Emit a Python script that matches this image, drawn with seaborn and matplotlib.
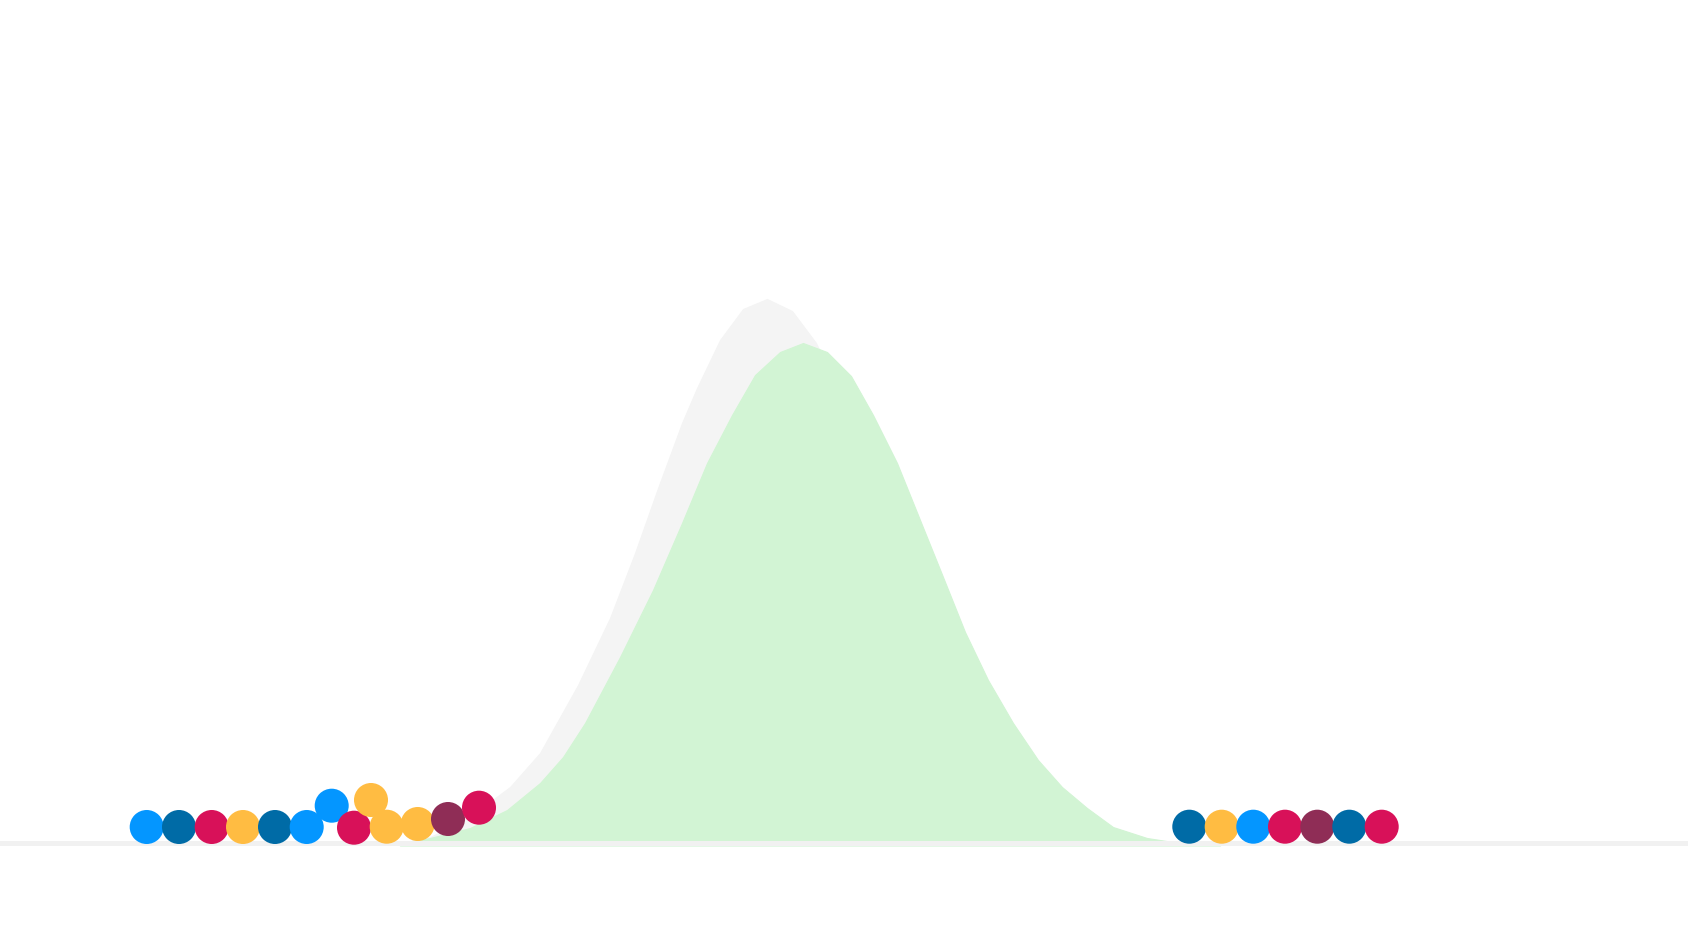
import matplotlib
matplotlib.use("Agg")
import matplotlib.pyplot as plt
import seaborn as sns
import pandas as pd

# ---- data (x in units of 10 px across the canvas, heights above baseline) ----
gray_x = [40.0, 43.0, 46.0, 48.3, 51.0, 54.0, 57.8, 61.0, 63.5, 65.8, 68.2, 69.7,
          72.0, 74.3, 76.7, 79.2, 81.6, 84.0, 87.0, 90.5, 94.0, 98.0, 102.0, 106.0, 110.0]
gray_y = [0.0, 0.6, 2.0, 3.6, 5.6, 9.0, 15.8, 22.5, 29.0, 35.5, 42.0, 45.5,
          50.3, 53.4, 54.4, 53.2, 50.0, 45.0, 36.0, 25.0, 15.0, 7.0, 3.0, 1.0, 0.0]

green_x = [40.0, 43.0, 47.0, 50.7, 54.0, 56.3, 58.5, 62.0, 65.3, 68.2, 70.7, 73.2,
           75.5, 78.0, 80.3, 82.7, 85.1, 87.3, 89.7, 92.0, 94.3, 96.5, 98.8, 101.3,
           103.8, 106.2, 108.7, 111.3, 114.7, 117.3, 122.0]
green_y = [0.0, 0.5, 1.5, 3.3, 6.0, 8.6, 12.0, 18.6, 25.3, 32.0, 38.0, 42.8,
           46.8, 49.1, 50.0, 49.1, 46.7, 42.8, 38.0, 32.3, 26.6, 21.1, 16.3, 12.0,
           8.3, 5.6, 3.5, 1.6, 0.5, 0.1, 0.0]

left_x = [14.67, 17.9, 21.17, 24.3, 27.5, 30.67, 33.17, 35.4, 37.1, 38.67, 41.77, 44.8, 47.9]
left_y = [1.6, 1.6, 1.6, 1.6, 1.6, 1.6, 3.73, 1.53, 4.3, 1.63, 1.9, 2.4, 3.53]
left_cat = ["a", "b", "c", "d", "b", "a", "a", "c", "d", "d", "d", "e", "c"]

right_x = [118.93, 122.17, 125.33, 128.5, 131.73, 134.93, 138.17]
right_y = [1.63, 1.63, 1.63, 1.63, 1.63, 1.63, 1.63]
right_cat = ["b", "d", "a", "c", "e", "b", "c"]

palette = {"a": "#0496FF", "b": "#006BA6", "c": "#D81159", "d": "#FFBC42", "e": "#8F2D56"}

sns.set_theme(style="white")
fig = plt.figure(figsize=(16.88, 9.44), dpi=100)
ax = fig.add_axes([0, 0, 1, 1])

ax.fill_between(gray_x, 0, gray_y, color="#F4F4F4", linewidth=0.8,
                edgecolor="#F4F4F4", zorder=1)
ax.fill_between(green_x, -0.25, green_y, color="#D2F4D4", linewidth=0.8,
                edgecolor="#D2F4D4", zorder=2)

# baseline
sns.lineplot(x=[0, 168.8], y=[0, 0], color="#F1F1F1", linewidth=3.6, ax=ax, zorder=3)

dots = pd.DataFrame({
    "x": left_x + right_x,
    "y": left_y + right_y,
    "cat": left_cat + right_cat,
})
sns.scatterplot(data=dots, x="x", y="y", hue="cat", palette=palette, s=600,
                linewidth=0, edgecolor="none", legend=False, ax=ax, zorder=5)
ax.set_xlim(0, 168.8)
ax.set_ylim(-10.1, 84.3)
ax.axis("off")

fig.savefig("out.png", dpi=100, facecolor="white")
